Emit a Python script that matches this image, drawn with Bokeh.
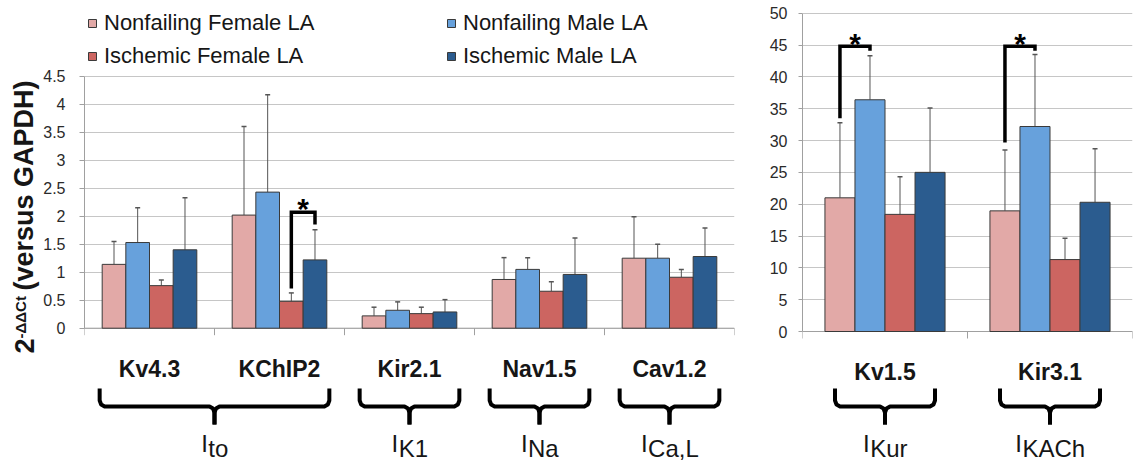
import math
from bokeh.plotting import figure
from bokeh.models import (Range1d, FixedTicker, NumeralTickFormatter, ColumnDataSource,
                          Whisker, TeeHead, Legend, LegendItem)
from bokeh.layouts import row
from bokeh.embed import file_html
from bokeh.resources import INLINE
from bokeh.core.properties import value

# ---------------- data ----------------
series = ["Nonfailing Female LA", "Nonfailing Male LA", "Ischemic Female LA", "Ischemic Male LA"]
colors = ["#E2A9A7", "#67A1DC", "#CC6561", "#2B5C8F"]

left_genes = ["Kv4.3", "KChIP2", "Kir2.1", "Nav1.5", "Cav1.2"]
left_nf_female = [1.14, 2.02, 0.22, 0.87, 1.25]
left_nf_female_err = [1.55, 3.60, 0.375, 1.26, 1.99]
left_nf_male = [1.53, 2.43, 0.32, 1.05, 1.25]
left_nf_male_err = [2.15, 4.17, 0.47, 1.26, 1.50]
left_isc_female = [0.76, 0.48, 0.26, 0.66, 0.91]
left_isc_female_err = [0.86, 0.63, 0.375, 0.83, 1.05]
left_isc_male = [1.40, 1.22, 0.29, 0.96, 1.28]
left_isc_male_err = [2.33, 1.76, 0.51, 1.61, 1.79]
left_ticks = [0, 0.5, 1, 1.5, 2, 2.5, 3, 3.5, 4, 4.5]
# current groups: (main letter, subscript, first gene index, last gene index)
left_currents = [("I", "to", 0, 1), ("I", "K1", 2, 2), ("I", "Na", 3, 3), ("I", "Ca,L", 4, 4)]
# significance: (gene index, bar a, bar b, leg-a bottom, bracket top, leg-b bottom)
left_sig = [(1, 2, 3, 0.71, 2.07, 1.85)]

right_genes = ["Kv1.5", "Kir3.1"]
right_nf_female = [21.0, 18.95]
right_nf_female_err = [32.8, 28.5]
right_nf_male = [36.4, 32.2]
right_nf_male_err = [43.3, 43.5]
right_isc_female = [18.4, 11.3]
right_isc_female_err = [24.3, 14.65]
right_isc_male = [25.0, 20.3]
right_isc_male_err = [35.1, 28.7]
right_ticks = [0, 5, 10, 15, 20, 25, 30, 35, 40, 45, 50]
right_currents = [("I", "Kur", 0, 0), ("I", "KACh", 1, 1)]
right_sig = [(0, 0, 1, 33.5, 44.8, 44.1), (1, 0, 1, 29.7, 44.8, 44.1)]

y_label_base = "2"
y_label_sup = "-ΔΔCt"
y_label_main = "(versus GAPDH)"

# ---------------- styling ----------------
FONT = "Liberation Sans"
H = 463
BAR_W = 0.182
AXIS_GRAY = "#a0a0a0"
GRID_GRAY = "#c6c6c6"
TXT = "#161616"
BASE_FIX = 0.41   # empirical shift of the alphabetic baseline (fraction of font size)

ARIAL_W = {"I": .278, "t": .278, "o": .556, "K": .667, "1": .556, "N": .722, "a": .556,
           "C": .722, ",": .278, "L": .556, "u": .556, "r": .333, "A": .667, "h": .556}


def tw(s, size):
    return sum(ARIAL_W.get(c, .556) for c in s) * size


def build(genes, vals, errs, ticks, fmt, currents, sigs, fig_x0, fig_w,
          frame_l, frame_r, y0_px, ytop_px, tick_out, standoff, gene_base_px):
    ymax = ticks[-1]
    ppu = (y0_px - ytop_px) / ymax
    n = len(genes)
    cat_px = (frame_r - frame_l) / n

    def dx(px):
        return (px - frame_l) / cat_px

    def dy(px):
        return (y0_px - px) / ppu

    def base(px, size):
        return dy(px - BASE_FIX * size)

    p = figure(width=fig_w, height=H, title=None,
               x_range=Range1d(0, n),
               y_range=Range1d(-(H - y0_px) / ppu, ymax + ytop_px / ppu),
               x_axis_location=None, output_backend="svg", toolbar_location=None,
               min_border_left=int(round(frame_l - fig_x0)),
               min_border_right=int(round(fig_x0 + fig_w - frame_r)),
               min_border_top=0, min_border_bottom=0)
    p.outline_line_color = None
    p.xgrid.visible = False

    ax = p.yaxis[0]
    ax.ticker = FixedTicker(ticks=ticks)
    ax.bounds = (0, ymax)
    ax.formatter = NumeralTickFormatter(format=fmt)
    ax.major_tick_out = tick_out
    ax.major_tick_in = 0
    ax.minor_tick_out = 0
    ax.minor_tick_in = 0
    ax.axis_line_color = AXIS_GRAY
    ax.major_tick_line_color = AXIS_GRAY
    ax.major_label_standoff = standoff
    ax.major_label_text_font = FONT
    ax.major_label_text_font_size = "16px"
    ax.major_label_text_color = "#2a2a2a"

    g = p.ygrid[0]
    g.ticker = FixedTicker(ticks=ticks)
    g.bounds = (0, ymax)
    g.grid_line_color = GRID_GRAY

    # category axis line and boundary ticks
    p.segment(x0=[0], y0=[0], x1=[n], y1=[0], line_color=AXIS_GRAY, line_width=1)
    bnd = list(range(n + 1))
    p.segment(x0=bnd, y0=[0] * len(bnd), x1=bnd, y1=[dy(y0_px + 7)] * len(bnd),
              line_color=AXIS_GRAY, line_width=1)

    rends = []
    for j in range(4):
        xs = [i + 0.5 + (j - 1.5) * BAR_W for i in range(n)]
        src = ColumnDataSource(dict(x=xs, top=vals[j], err=errs[j]))
        r = p.vbar(x="x", top="top", bottom=0, width=BAR_W, source=src,
                   fill_color=colors[j], line_color="#3a3a3a", line_width=1)
        rends.append(r)
        p.add_layout(Whisker(source=src, base="x", lower="top", upper="err",
                             dimension="height", line_color="#555555", line_width=1,
                             upper_head=TeeHead(size=5, line_color="#555555", line_width=1.5),
                             lower_head=None))

    # significance brackets
    for (gi, a, b, ya, ytop, yb) in sigs:
        xa = gi + 0.5 + (a - 1.5) * BAR_W
        xb = gi + 0.5 + (b - 1.5) * BAR_W
        p.multi_line(xs=[[xa, xa, xb, xb]], ys=[[ya, ytop, ytop, yb]],
                     line_color="black", line_width=3.5, line_join="miter")
        top_px = y0_px - ytop * ppu
        p.text(x=[(xa + xb) / 2], y=[base(top_px + 9, 30)], text=["*"],
               text_align="center", text_baseline="alphabetic",
               text_font=value(FONT), text_font_style="bold", text_font_size="30px",
               text_color="black")

    # gene names
    p.text(x=[i + 0.5 for i in range(n)], y=[base(gene_base_px, 23)] * n, text=genes,
           text_align="center", text_baseline="alphabetic",
           text_font=value(FONT), text_font_style="bold", text_font_size="23px",
           text_color=TXT)

    # braces and current names
    for (main, sub, f, l) in currents:
        xl = frame_l + (f + 0.5) * cat_px - 50
        xr = frame_l + (l + 0.5) * cat_px + 50
        xm = (xl + xr) / 2
        left_half = [(xl, 388), (xl, 400), (xl + 1.5, 404), (xl + 5, 406),
                     (xm - 5, 406), (xm - 1.5, 408), (xm, 412), (xm, 424)]
        right_half = [(xr, 388), (xr, 400), (xr - 1.5, 404), (xr - 5, 406),
                      (xm + 5, 406), (xm + 1.5, 408), (xm, 412), (xm, 424)]
        p.multi_line(xs=[[dx(a) for a, _ in left_half], [dx(a) for a, _ in right_half]],
                     ys=[[dy(b) for _, b in left_half], [dy(b) for _, b in right_half]],
                     line_color="black", line_width=4, line_join="round")
        total = tw(main, 24) + tw(sub, 24)
        start = xm - total / 2
        p.text(x=[dx(start)], y=[base(453, 24)], text=[main], text_align="left",
               text_baseline="alphabetic", text_font=value(FONT), text_font_size="24px",
               text_color=TXT)
        p.text(x=[dx(start + tw(main, 24) + 0.5)], y=[base(458, 24)], text=[sub],
               text_align="left", text_baseline="alphabetic", text_font=value(FONT),
               text_font_size="24px", text_color=TXT)
    return p, rends


LABEL_W = 40
SPLIT = 762
p1, r1 = build(
    left_genes,
    [left_nf_female, left_nf_male, left_isc_female, left_isc_male],
    [left_nf_female_err, left_nf_male_err, left_isc_female_err, left_isc_male_err],
    left_ticks, "0.[0]", left_currents, left_sig,
    LABEL_W, SPLIT - LABEL_W, 82, 734, 327.7, 75.7, 5, 14, 378.3)

p2, r2 = build(
    right_genes,
    [right_nf_female, right_nf_male, right_isc_female, right_isc_male],
    [right_nf_female_err, right_nf_male_err, right_isc_female_err, right_isc_male_err],
    right_ticks, "0", right_currents, right_sig,
    SPLIT, 1134 - SPLIT, 802, 1132, 331.0, 12.7, 4, 11, 380.7)


# legend (two columns)
def make_legend(items, x_px):
    lg = Legend(items=items, location=(x_px - 82, 463 - 12 - 57), orientation="vertical",
                label_text_font=FONT, label_text_font_size="22px", label_text_color=TXT,
                glyph_width=10, glyph_height=10, label_standoff=7, spacing=7,
                padding=0, margin=0, border_line_color=None, background_fill_alpha=0)
    p1.add_layout(lg)


make_legend([LegendItem(label=series[0], renderers=[r1[0]]),
             LegendItem(label=series[2], renderers=[r1[2]])], 85)
make_legend([LegendItem(label=series[1], renderers=[r1[1]]),
             LegendItem(label=series[3], renderers=[r1[3]])], 444)

# rotated y-axis label with superscript (own narrow figure; data units = pixels)
pl = figure(width=LABEL_W, height=H, title=None, x_range=Range1d(0, LABEL_W),
            y_range=Range1d(H, 0), x_axis_location=None, y_axis_location=None,
            output_backend="svg", toolbar_location=None,
            min_border_left=0, min_border_right=0, min_border_top=0, min_border_bottom=0)
pl.outline_line_color = None
pl.xgrid.visible = False
pl.ygrid.visible = False
for txt, xpx, ypx, size in [(y_label_base, 35.0, 353, 27),
                            (y_label_sup, 26.5, 338, 15),
                            (y_label_main, 35.0, 290, 27)]:
    pl.text(x=[xpx - BASE_FIX * size], y=[ypx], text=[txt], angle=math.pi / 2,
            text_align="left", text_baseline="alphabetic",
            text_font=value(FONT), text_font_style="bold", text_font_size=f"{size}px",
            text_color=TXT)

layout = row(pl, p1, p2)
open("out.html", "w").write(file_html(layout, INLINE, title="chart"))
